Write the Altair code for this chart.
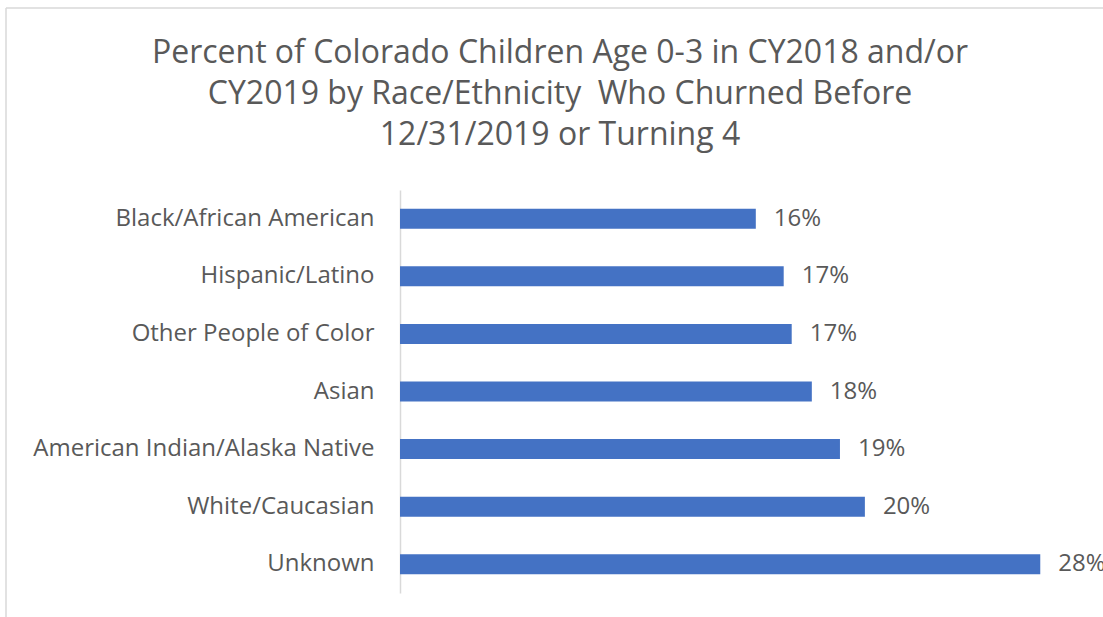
import altair as alt
import pandas as pd

categories = [
    "Black/African American",
    "Hispanic/Latino",
    "Other People of Color",
    "Asian",
    "American Indian/Alaska Native",
    "White/Caucasian",
    "Unknown",
]
churn_rate = [0.1556, 0.1678, 0.1713, 0.1801, 0.1924, 0.2033, 0.28]

title_lines = [
    "Percent of Colorado Children Age 0-3 in CY2018 and/or",
    "CY2019 by Race/Ethnicity \u00a0Who Churned Before",
    "12/31/2019 or Turning 4",
]

df = pd.DataFrame({"category": categories, "rate": churn_rate})

FONT = "Open Sans"
GREY = "#595959"
PLOT_W = 686
PLOT_H = 403
PAD_L = 400
PAD_T = 190

y_enc = alt.Y(
    "category:N",
    sort=categories,
    title=None,
    scale=alt.Scale(paddingInner=0.653, paddingOuter=0.3265),
    axis=alt.Axis(
        ticks=False,
        domainColor="#d9d9d9",
        domainWidth=1.5,
        labelFont=FONT,
        labelFontSize=24,
        labelColor=GREY,
        labelPadding=26,
        labelLimit=400,
    ),
)
x_enc = alt.X(
    "rate:Q",
    scale=alt.Scale(domain=[0, 0.30], nice=False),
    axis=None,
)

bars = alt.Chart(df).mark_bar(color="#4472C4").encode(x=x_enc, y=y_enc)
labels = alt.Chart(df).mark_text(
    align="left", baseline="middle", dx=18, font=FONT, fontSize=24, color=GREY
).encode(x=x_enc, y=alt.Y("category:N", sort=categories), text=alt.Text("rate:Q", format=".0%"))

one = alt.Data(values=[{"a": 1}])
border_top = alt.Chart(one).mark_rule(color="#d9d9d9", strokeWidth=1.5).encode(
    x=alt.value(6 - PAD_L), x2=alt.value(1103 - PAD_L + 20), y=alt.value(8 - PAD_T)
)
border_left = alt.Chart(one).mark_rule(color="#d9d9d9", strokeWidth=1.5).encode(
    x=alt.value(6 - PAD_L), y=alt.value(8 - PAD_T), y2=alt.value(617 - PAD_T + 10)
)
title = alt.Chart(one).mark_text(
    align="center", baseline="middle", font=FONT, fontSize=32, color=GREY,
    lineBreak="\n", lineHeight=41,
).encode(
    x=alt.value(560 - PAD_L), y=alt.value(53 - PAD_T), text=alt.value("\n".join(title_lines))
)

chart = (
    alt.layer(border_top, border_left, title, bars, labels)
    .properties(
        width=PLOT_W,
        height=PLOT_H,
        autosize=alt.AutoSizeParams(type="none"),
        padding={"left": PAD_L, "top": PAD_T, "right": 1103 - PAD_L - PLOT_W, "bottom": 617 - PAD_T - PLOT_H},
    )
    .configure(background="white", view=alt.ViewConfig(stroke="transparent", strokeWidth=0))
)

chart.save("out.html", embed_options={"renderer": "svg", "actions": False})
